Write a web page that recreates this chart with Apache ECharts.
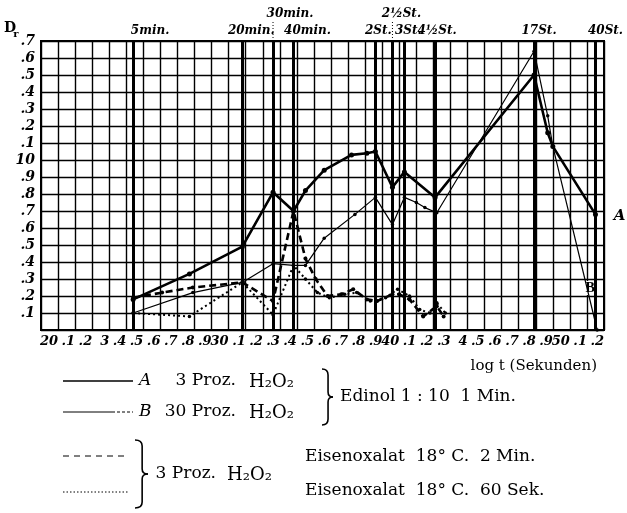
<!DOCTYPE html>
<html>
<head>
<meta charset="utf-8">
<script src="https://cdn.jsdelivr.net/npm/echarts@6/dist/echarts.min.js"></script>
<style>html,body{margin:0;padding:0;background:#fff}#c{width:627px;height:513px}</style>
</head>
<body>
<div id="c"></div>
<script>
// ---- data (x = log t in seconds, y = density D_r) ----
const xTickLabels = ["20",".1",".2","3",".4",".5",".6",".7",".8",".9","30",".1",".2",".3",".4",".5",".6",".7",".8",".9","40",".1",".2",".3","4",".5",".6",".7",".8",".9","50",".1",".2"];
const yTickLabels = ["",".1",".2",".3",".4",".5",".6",".7",".8",".9","10",".1",".2",".3",".4",".5",".6",".7"];

const eventLogT   = [2.44, 3.08, 3.26, 3.38, 3.86, 3.96, 4.03, 4.21, 4.79, 5.15];
const eventLabels = ["5min.","20min.","30min.","40min.","2St.","2½St.","3St.","4½St.","17St.","40St."];

const seriesA_x = [2.44, 2.77, 3.08, 3.26, 3.38, 3.45, 3.56, 3.72, 3.81, 3.86, 3.96, 4.03, 4.21, 4.79, 4.87, 4.90, 5.15];
const seriesA_y = [0.18, 0.33, 0.49, 0.81, 0.70, 0.82, 0.94, 1.03, 1.04, 1.05, 0.84, 0.93, 0.78, 1.50, 1.16, 1.08, 0.68];

const seriesB_x = [2.44, 2.79, 3.08, 3.26, 3.38, 3.45, 3.56, 3.74, 3.86, 3.96, 4.03, 4.10, 4.15, 4.22, 4.79, 4.87, 4.90, 5.16];
const seriesB_y = [0.10, 0.22, 0.28, 0.39, 0.38, 0.38, 0.54, 0.68, 0.78, 0.62, 0.78, 0.75, 0.72, 0.69, 1.64, 1.26, 1.08, 0.00];

const seriesC_x = [2.44, 2.61, 2.79, 3.08, 3.26, 3.38, 3.45, 3.51, 3.58, 3.66, 3.73, 3.81, 3.87, 3.96, 4.00, 4.06, 4.14, 4.22, 4.26];
const seriesC_y = [0.19, 0.22, 0.25, 0.28, 0.17, 0.70, 0.42, 0.30, 0.20, 0.21, 0.24, 0.18, 0.17, 0.21, 0.21, 0.18, 0.08, 0.14, 0.08];

const seriesD_x = [2.44, 2.77, 3.08, 3.26, 3.38, 3.45, 3.52, 3.59, 3.68, 3.75, 3.83, 3.92, 3.99, 4.06, 4.12, 4.18, 4.22, 4.27];
const seriesD_y = [0.10, 0.08, 0.28, 0.09, 0.38, 0.30, 0.22, 0.19, 0.21, 0.22, 0.17, 0.19, 0.24, 0.20, 0.12, 0.10, 0.16, 0.10];

// ---- chart ----
const zip = (xs, ys) => xs.map((x, i) => [x, ys[i]]);
const chart = echarts.init(document.getElementById('c'), null, {renderer: 'canvas'});
const tickFont = {fontFamily: 'DejaVu Serif', fontStyle: 'italic', fontWeight: 'bold', fontSize: 13, color: '#000'};
const serif = 'DejaVu Serif';

chart.setOption({
  animation: false,
  backgroundColor: '#fff',
  grid: {left: 41, right: 23, top: 41, bottom: 183, show: true, borderColor: '#000', borderWidth: 2},
  xAxis: {
    type: 'value', min: 1.9, max: 5.2, interval: 0.1,
    axisLine: {show: true, lineStyle: {color: '#000', width: 2}},
    axisTick: {show: false},
    splitLine: {show: true, lineStyle: {color: '#000', width: 1.4}},
    axisLabel: Object.assign({
      align: 'right', margin: 5, showMinLabel: true, showMaxLabel: true,
      formatter: v => { const i = Math.round(v * 10) - 20; return i >= 0 && i < xTickLabels.length ? xTickLabels[i] : ''; }
    }, tickFont)
  },
  yAxis: {
    type: 'value', min: 0, max: 1.7, interval: 0.1,
    axisLine: {show: true, lineStyle: {color: '#000', width: 2}},
    axisTick: {show: false},
    splitLine: {show: true, lineStyle: {color: '#000', width: 1.4}},
    axisLabel: Object.assign({
      margin: 6, showMinLabel: true, showMaxLabel: true,
      formatter: v => { const i = Math.round(v * 10); return yTickLabels[i] || ''; }
    }, tickFont, {fontSize: 14})
  },
  series: [
    {name: 'A', type: 'line', data: zip(seriesA_x, seriesA_y), symbol: 'circle', symbolSize: 5,
     itemStyle: {color: '#000'}, lineStyle: {color: '#000', width: 2.6}, z: 5,
     markLine: {silent: true, symbol: 'none', label: {show: false},
       lineStyle: {color: '#000', width: 3, type: 'solid'},
       data: eventLogT.map(x => ({xAxis: x}))}},
    {name: 'B', type: 'line', data: zip(seriesB_x, seriesB_y), symbol: 'circle', symbolSize: 3.5,
     itemStyle: {color: '#000'}, lineStyle: {color: '#000', width: 1.2}, z: 4},
    {name: 'C', type: 'line', data: zip(seriesC_x, seriesC_y), symbol: 'circle', symbolSize: 4,
     itemStyle: {color: '#000'}, lineStyle: {color: '#000', width: 2.6, type: [7, 4]}, z: 4},
    {name: 'D', type: 'line', data: zip(seriesD_x, seriesD_y), symbol: 'circle', symbolSize: 3.5,
     itemStyle: {color: '#000'}, lineStyle: {color: '#000', width: 2, type: [2, 3]}, z: 4}
  ]
});

// ---- annotations placed through the axes ----
const labelShift = {"5min.": [17, 31], "20min.": [9, 31], "30min.": [17, 14], "40min.": [14, 31], "2St.": [3, 31],
  "2½St.": [9, 14], "3St.": [4, 31], "4½St.": [2, 31], "17St.": [5, 31], "40St.": [10, 31]};
const g = [];
eventLogT.forEach((x, i) => {
  const px = chart.convertToPixel({gridIndex: 0}, [x, 1.7])[0];
  const s = labelShift[eventLabels[i]];
  g.push({type: 'text', x: px + s[0], y: s[1],
    style: {text: eventLabels[i], fill: '#000', font: 'italic bold 12px "DejaVu Serif"', align: 'center', verticalAlign: 'middle'}});
  if (s[1] < 20) {
    g.push({type: 'line', shape: {x1: px, y1: 22, x2: px, y2: 40}, style: {stroke: '#000', lineWidth: 1, lineDash: [1, 2]}});
  }
});
const endA = chart.convertToPixel({gridIndex: 0}, [seriesA_x[seriesA_x.length - 1], seriesA_y[seriesA_y.length - 1]]);
g.push({type: 'text', x: endA[0] + 24, y: endA[1] + 2, style: {text: 'A', fill: '#000', font: 'italic bold 15px "DejaVu Serif"', align: 'center', verticalAlign: 'middle'}});
const endB = chart.convertToPixel({gridIndex: 0}, [seriesB_x[seriesB_x.length - 1], seriesB_y[seriesB_y.length - 1]]);
g.push({type: 'text', x: endB[0] - 7, y: endB[1] - 42, style: {text: 'B', fill: '#000', font: 'bold 14px "Liberation Serif"', align: 'center', verticalAlign: 'middle', backgroundColor: '#fff'}});

// y-axis name
g.push({type: 'text', x: 10, y: 28, style: {text: 'D', fill: '#000', font: 'bold 14px "DejaVu Serif"', align: 'center', verticalAlign: 'middle'}});
g.push({type: 'text', x: 16, y: 34, style: {text: 'r', fill: '#000', font: 'bold 10px "DejaVu Serif"', align: 'center', verticalAlign: 'middle'}});

// x-axis name
g.push({type: 'text', x: 597, y: 366, style: {text: 'log t (Sekunden)', fill: '#000', font: '15px "' + serif + '"', align: 'right', verticalAlign: 'middle', rich: {}}});

// legend
const T = (x, y, t, extra) => g.push({type: 'text', x: x, y: y, style: Object.assign({text: t, fill: '#000', font: '17px "' + serif + '"', verticalAlign: 'middle'}, extra || {})});
const L = (x1, x2, y, w, dash) => g.push({type: 'line', shape: {x1: x1, y1: y, x2: x2, y2: y}, style: {stroke: '#000', lineWidth: w, lineDash: dash || null}});
const Q = (x1, y1, cx, cy, x2, y2) => g.push({type: 'bezierCurve', shape: {x1: x1, y1: y1, cpx1: cx, cpy1: cy, x2: x2, y2: y2}, style: {stroke: '#000', lineWidth: 1.6, fill: null}});
const brace = (x, y, h, w) => {
  const m = y + h / 2, xm = x + w * 0.55;
  Q(x, y, xm, y, xm, y + 6);
  g.push({type: 'line', shape: {x1: xm, y1: y + 6, x2: xm, y2: m - 5}, style: {stroke: '#000', lineWidth: 1.6}});
  Q(xm, m - 5, xm, m, x + w, m);
  Q(x + w, m, xm, m, xm, m + 5);
  g.push({type: 'line', shape: {x1: xm, y1: m + 5, x2: xm, y2: y + h - 6}, style: {stroke: '#000', lineWidth: 1.6}});
  Q(xm, y + h - 6, xm, y + h, x, y + h);
};
const italic = {font: 'italic 17px "' + serif + '"'};
L(63, 133, 381, 1.4);
T(139, 381, 'A', italic);
T(236, 381, '3 Proz.', {align: 'right'});
T(249, 382, 'H₂O₂', {font: '18px "' + serif + '"'});
L(63, 112, 412, 1);
L(112, 133, 412, 1, [3, 2]);
T(139, 412, 'B', italic);
T(236, 412, '30 Proz.', {align: 'right'});
T(249, 413, 'H₂O₂', {font: '18px "' + serif + '"'});
brace(322, 369, 56, 11);
T(340, 397, 'Edinol 1 : 10  1 Min.');
L(63, 128, 456, 1, [6, 5]);
L(63, 128, 492, 1, [1.5, 2]);
brace(135, 440, 68, 13);
T(216, 474, '3 Proz.', {align: 'right'});
T(227, 475, 'H₂O₂', {font: '18px "' + serif + '"'});
T(305, 457, 'Eisenoxalat  18° C.  2 Min.');
T(305, 491, 'Eisenoxalat  18° C.  60 Sek.');

chart.setOption({graphic: g});
</script>
</body>
</html>
